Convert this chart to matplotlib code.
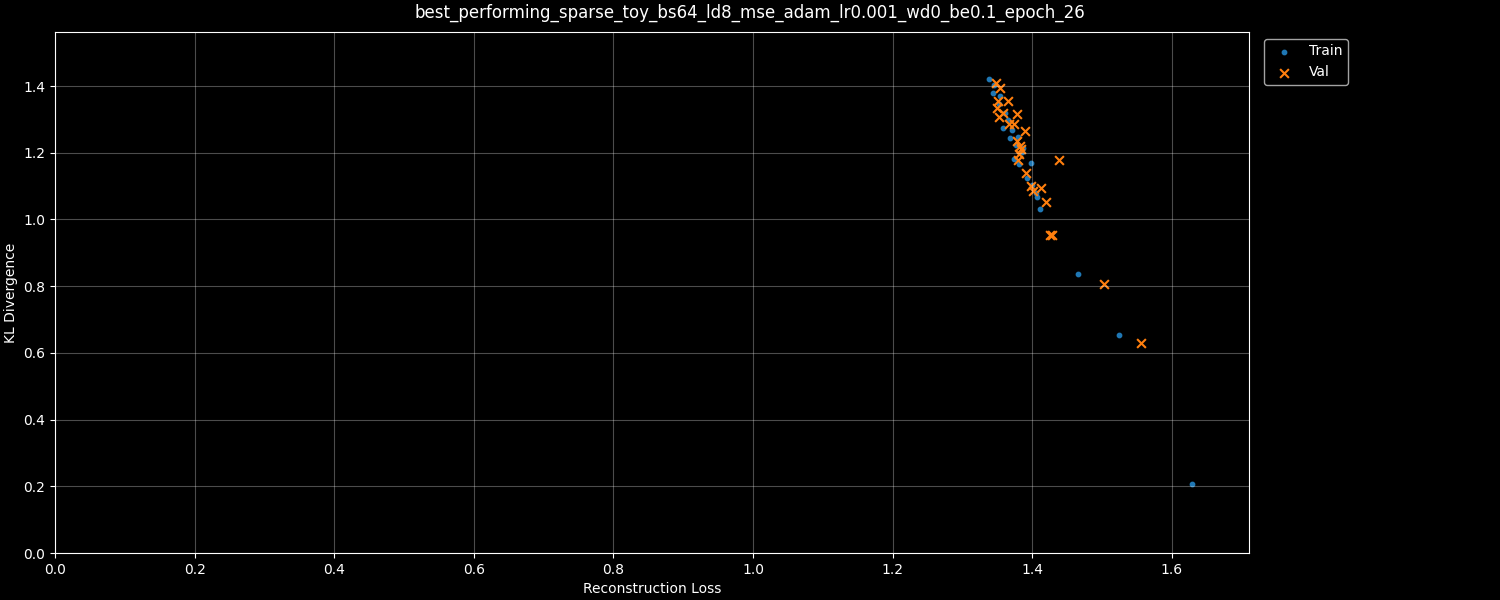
import matplotlib
matplotlib.use("Agg")
import matplotlib.pyplot as plt
import numpy as np

title = "best_performing_sparse_toy_bs64_ld8_mse_adam_lr0.001_wd0_be0.1_epoch_26"

train_recon = [1.338, 1.345, 1.344, 1.354, 1.352, 1.361, 1.365, 1.358, 1.371, 1.368,
               1.380, 1.377, 1.387, 1.385, 1.374, 1.381, 1.398, 1.393, 1.400, 1.405,
               1.407, 1.411, 1.466, 1.524, 1.629]
train_kl = [1.420, 1.404, 1.379, 1.370, 1.346, 1.319, 1.298, 1.274, 1.268, 1.244,
            1.247, 1.223, 1.214, 1.202, 1.181, 1.166, 1.169, 1.124, 1.103, 1.079,
            1.067, 1.031, 0.836, 0.653, 0.207]

val_recon = [1.348, 1.354, 1.351, 1.365, 1.350, 1.358, 1.352, 1.378, 1.367, 1.374,
             1.390, 1.378, 1.383, 1.384, 1.381, 1.380, 1.391, 1.438, 1.398, 1.413,
             1.401, 1.420, 1.426, 1.428, 1.503, 1.556]
val_kl = [1.409, 1.394, 1.355, 1.355, 1.334, 1.319, 1.307, 1.316, 1.286, 1.286,
          1.265, 1.235, 1.220, 1.211, 1.196, 1.178, 1.139, 1.178, 1.100, 1.094,
          1.085, 1.052, 0.953, 0.953, 0.806, 0.630]

plt.style.use("dark_background")
fig = plt.figure(figsize=(15, 6), dpi=100)
ax = fig.add_axes([0.0367, 0.0783, 0.796, 0.8684])

ax.scatter(train_recon, train_kl, s=10, color="#1f77b4", label="Train")
ax.scatter(val_recon, val_kl, s=40, marker="x", color="#ff7f0e", label="Val")

ax.set_xlim(0, max(max(train_recon), max(val_recon)) * 1.05)
ax.set_ylim(0, max(max(train_kl), max(val_kl)) * 1.1)
ax.grid(True, alpha=0.3)
ax.set_xlabel("Reconstruction Loss")
ax.set_ylabel("KL Divergence")
fig.suptitle(title, fontsize=12, y=0.993)
ax.legend(loc="upper left", bbox_to_anchor=(1.007, 1.0))

fig.savefig("out.png", dpi=100)
